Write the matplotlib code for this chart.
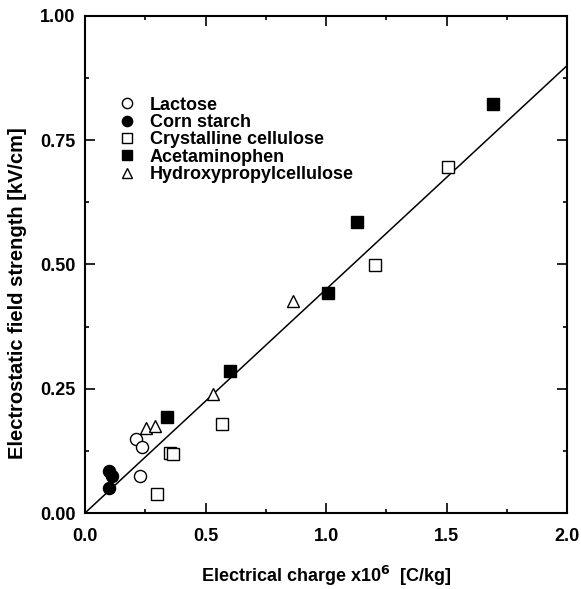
"""
    Electrostatic field strength vs. electrical charge for several powders
"""

import numpy as np
import matplotlib
import matplotlib.pyplot as plt
from matplotlib.ticker import MultipleLocator

matplotlib.use('agg')

plt.rcParams['font.family'] = ['Liberation Sans', 'DejaVu Sans']
plt.rcParams['font.weight'] = 'bold'
plt.rcParams['axes.labelweight'] = 'bold'

# charge x1e6 [C/kg] and field strength [kV/cm] per material
lactoseX = [0.21, 0.235, 0.228]
lactoseY = [0.149, 0.133, 0.075]
cornX = [0.10, 0.113, 0.099]
cornY = [0.084, 0.075, 0.051]
celluloseX = [0.30, 0.354, 0.365, 0.567, 1.204, 1.504]
celluloseY = [0.038, 0.121, 0.119, 0.180, 0.499, 0.697]
acetX = [0.340, 0.601, 1.007, 1.128, 1.692]
acetY = [0.193, 0.285, 0.442, 0.586, 0.823]
hpcX = [0.254, 0.292, 0.532, 0.864]
hpcY = [0.172, 0.175, 0.239, 0.426]

# linear fit drawn through all materials
fitX = [0.0, 2.0]
fitSlope = 0.45
fitIntercept = 0.0

fig = plt.figure(figsize=(5.81, 5.89), dpi=100)
ax = fig.add_axes([0.1463, 0.129, 0.8297, 0.844])

fx = np.array(fitX)
ax.plot(fx, fitIntercept + fitSlope * fx, '-', color='k', linewidth=1.1, zorder=1)

ms = 8.7
ax.plot(lactoseX, lactoseY, 'o', ms=ms, mfc='white', mec='k', mew=1.0,
        label='Lactose', zorder=3)
ax.plot(cornX, cornY, 'o', ms=ms, mfc='k', mec='k', mew=1.0,
        label='Corn starch', zorder=3)
ax.plot(celluloseX, celluloseY, 's', ms=8.3, mfc='white', mec='k', mew=1.0,
        label='Crystalline cellulose', zorder=3)
ax.plot(acetX, acetY, 's', ms=8.3, mfc='k', mec='k', mew=1.0,
        label='Acetaminophen', zorder=3)
ax.plot(hpcX, hpcY, '^', ms=9.0, mfc='white', mec='k', mew=1.0,
        label='Hydroxypropylcellulose', zorder=3)

ax.set_xlim(0, 2.0)
ax.set_ylim(0, 1.0)
ax.xaxis.set_major_locator(MultipleLocator(0.5))
ax.xaxis.set_minor_locator(MultipleLocator(0.25))
ax.yaxis.set_major_locator(MultipleLocator(0.25))
ax.yaxis.set_minor_locator(MultipleLocator(0.125))
ax.set_xticklabels(['%.1f' % v for v in ax.get_xticks()])
ax.set_yticklabels(['%.2f' % v for v in ax.get_yticks()])
ax.tick_params(which='both', direction='in', top=True, right=True,
               labelsize=13, width=1.2)
ax.tick_params(axis='x', pad=11)
ax.tick_params(axis='y', pad=7)
ax.tick_params(which='major', length=7)
ax.tick_params(which='minor', length=3)
for sp in ax.spines.values():
    sp.set_linewidth(1.5)

ax.set_xlabel(r'Electrical charge x10$^{\mathbf{6}}$  [C/kg]', fontsize=13,
              va='center')
ax.xaxis.set_label_coords(0.5, -0.127)
ax.set_ylabel('Electrostatic field strength [kV/cm]', fontsize=14.5,
              va='center')
ax.yaxis.set_label_coords(-0.14, 0.442)

ax.legend(loc='upper left', bbox_to_anchor=(0.05, 0.856), frameon=False,
          fontsize=13, handletextpad=0.75, labelspacing=0.02,
          handlelength=1.0, borderpad=0.0, markerscale=0.85)

fig.savefig('out.png', dpi=100)
